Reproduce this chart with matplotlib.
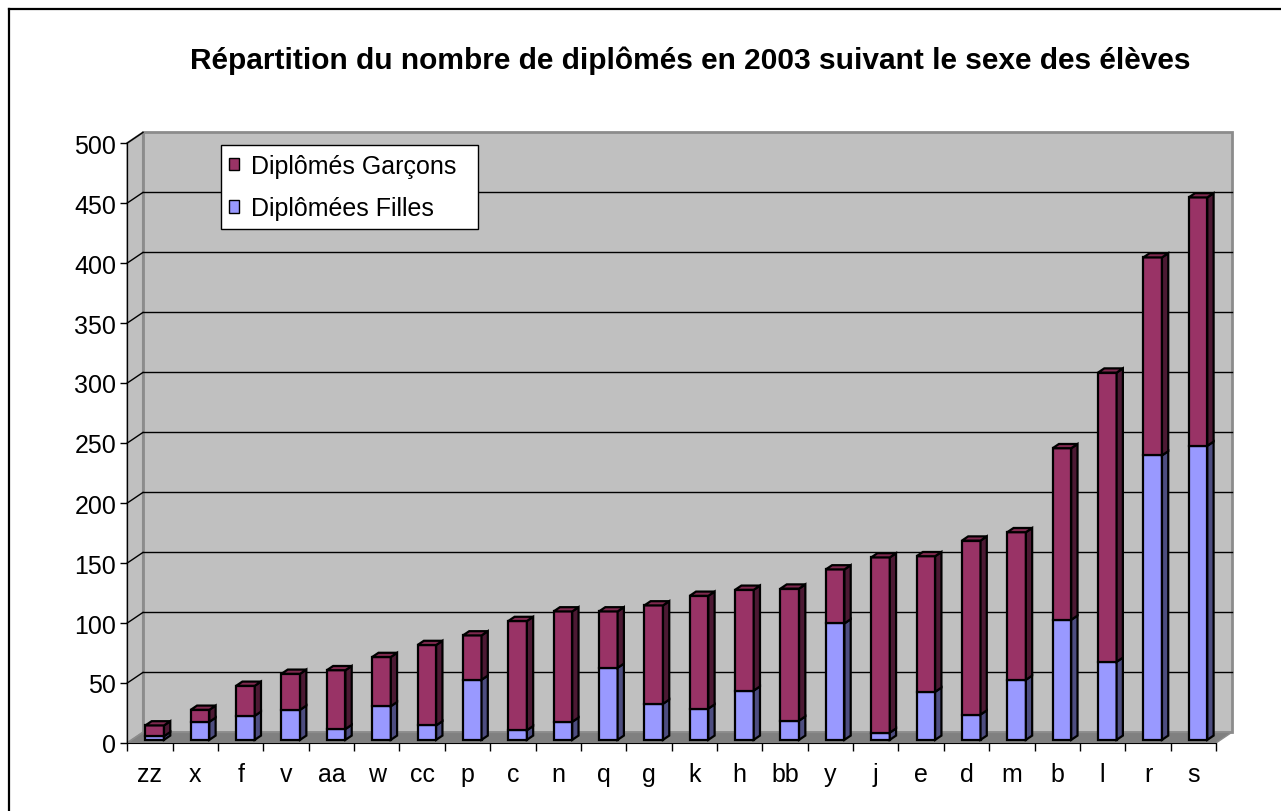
import matplotlib.pyplot as plt
from matplotlib.patches import Polygon, Patch
from matplotlib.lines import Line2D
import numpy as np

plt.rcParams['font.family'] = ['Liberation Sans', 'DejaVu Sans']

# donnees
ecoles = ['zz', 'x', 'f', 'v', 'aa', 'w', 'cc', 'p', 'c', 'n', 'q', 'g',
          'k', 'h', 'bb', 'y', 'j', 'e', 'd', 'm', 'b', 'l', 'r', 's']
filles = [3, 15, 20, 25, 9, 28, 12, 50, 8, 15, 60, 30,
          26, 41, 16, 97, 6, 40, 21, 50, 100, 65, 237, 245]
garcons = [9, 10, 25, 30, 49, 41, 67, 37, 91, 92, 47, 82,
           94, 84, 110, 45, 146, 113, 145, 123, 143, 241, 165, 207]
yticks = list(range(0, 501, 50))
titre = 'Répartition du nombre de diplômés en 2003 suivant le sexe des élèves'

W, H = 1281, 812
fig = plt.figure(figsize=(W / 100, H / 100), dpi=100)
fig.patch.set_facecolor('white')

# axe avant: x de 127 a 1216 px, 0 a 744 px, 500 a 144 px
ax = fig.add_axes([127.3 / W, (H - 744) / H, (1216 - 127.3) / W, 600 / H])
n = len(ecoles)
ax.set_xlim(0, n)
ax.set_ylim(0, 500)
ax.set_facecolor('none')

# profondeur 3D en unites de donnees
dX = 15.7 / 45.36
dY = 10.6 / 1.2
f0, f1 = 0.3, 0.7   # position avant / arriere des barres dans la profondeur
w = 0.41

mur = '#C0C0C0'
sol = '#808080'
# mur du fond
ax.add_patch(Polygon([(dX, dY), (n + dX, dY), (n + dX, 500 + dY), (dX, 500 + dY)],
                     closed=True, facecolor=mur, edgecolor='#8C8C8C', lw=2, clip_on=False, zorder=0))
# mur de gauche
ax.add_patch(Polygon([(0, 0), (dX, dY), (dX, 500 + dY), (0, 500)],
                     closed=True, facecolor=mur, edgecolor='#8C8C8C', lw=1.5, clip_on=False, zorder=0))
# sol
ax.add_patch(Polygon([(0, 0), (n, 0), (n + dX, dY), (dX, dY)],
                     closed=True, facecolor=sol, edgecolor='#8C8C8C', lw=1, clip_on=False, zorder=0.5))

# quadrillage
for v in yticks[1:-1]:
    ax.plot([dX, n + dX], [v + dY, v + dY], color='black', lw=1, clip_on=False, zorder=1)
    ax.plot([0, dX], [v, v + dY], color='black', lw=1, clip_on=False, zorder=1)
ax.plot([0, dX], [500, 500 + dY], color='black', lw=1, clip_on=False, zorder=1)

# barres empilees
x = np.arange(n) + 0.5 + f0 * dX
base = f0 * dY
filles_a = np.array(filles)
garcons_a = np.array(garcons)
ax.bar(x, filles_a, width=w, bottom=base, color='#9999FF', edgecolor='black', lw=1.6, zorder=3)
ax.bar(x, garcons_a, width=w, bottom=base + filles_a, color='#993366', edgecolor='black', lw=1.6, zorder=3)

ddx = (f1 - f0) * dX
ddy = (f1 - f0) * dY
for i in range(n):
    xr = x[i] + w / 2
    xl = x[i] - w / 2
    b0 = base
    b1 = base + filles[i]
    b2 = b1 + garcons[i]
    # cote filles
    ax.add_patch(Polygon([(xr, b0), (xr + ddx, b0 + ddy), (xr + ddx, b1 + ddy), (xr, b1)],
                         closed=True, facecolor='#4D4D80', edgecolor='black', lw=1.6, zorder=3, clip_on=False))
    # cote garcons
    ax.add_patch(Polygon([(xr, b1), (xr + ddx, b1 + ddy), (xr + ddx, b2 + ddy), (xr, b2)],
                         closed=True, facecolor='#4C1933', edgecolor='black', lw=1.6, zorder=3.1, clip_on=False))
    # dessus
    ax.add_patch(Polygon([(xl, b2), (xr, b2), (xr + ddx, b2 + ddy), (xl + ddx, b2 + ddy)],
                         closed=True, facecolor='#80294F', edgecolor='black', lw=1.6, zorder=3.2, clip_on=False))

# axes
for s in ['top', 'right']:
    ax.spines[s].set_visible(False)
ax.spines['left'].set_color('black')
ax.spines['bottom'].set_color('black')
ax.spines['left'].set_zorder(4)
ax.spines['bottom'].set_zorder(4)
ax.set_yticks(yticks)
ax.tick_params(axis='y', direction='out', length=5, width=1, labelsize=18, pad=3)
ax.set_xticks(np.arange(n + 1))
ax.set_xticklabels([])
ax.tick_params(axis='x', which='major', direction='out', length=6, width=1)
ax.set_xticks(np.arange(n) + 0.5, minor=True)
ax.set_xticklabels(ecoles, minor=True)
ax.tick_params(axis='x', which='minor', length=0, labelsize=18, pad=14)

# legende
handles = [Patch(facecolor='#993366', edgecolor='black', label='Diplômés Garçons'),
           Patch(facecolor='#9999FF', edgecolor='black', label='Diplômées Filles')]
leg = ax.legend(handles=handles, loc='upper left', mode='expand',
                bbox_to_anchor=(220.7 / W, 1 - 230 / H, 257 / W, 84 / H),
                bbox_transform=fig.transFigure, fancybox=False, framealpha=1, edgecolor='black',
                fontsize=18, handlelength=0.4, handleheight=0.4, handletextpad=0.45,
                labelspacing=0.74, borderpad=0.35, borderaxespad=0)
leg.get_frame().set_linewidth(1)
leg.set_zorder(5)

# titre
fig.text(690 / W, 1 - 61 / H, titre, ha='center', va='center', fontsize=21.5, fontweight='bold')

# cadre exterieur
fig.add_artist(Line2D([9 / W, 9 / W], [0, 1 - 10 / H], transform=fig.transFigure, color='black', lw=1.6))
fig.add_artist(Line2D([9 / W, 1], [1 - 10 / H, 1 - 10 / H], transform=fig.transFigure, color='black', lw=1.6))

fig.savefig('out.png', dpi=100)
